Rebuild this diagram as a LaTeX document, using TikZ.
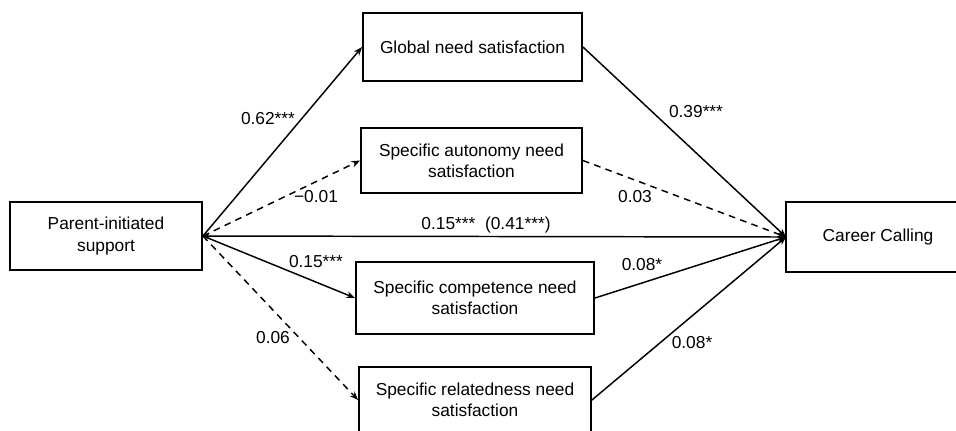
\documentclass[tikz,border=0pt]{standalone}
\usepackage{fontspec}
\setmainfont{Liberation Sans}
\usetikzlibrary{arrows.meta}

\tikzset{every picture/.style={line width=0.75pt}}
\tikzset{
  box/.style={draw, line width=1.4pt, align=center, inner sep=0pt,
    font=\fontsize{13}{15.8}\selectfont},
  lbl/.style={inner sep=0.75pt, font=\fontsize{13}{15.8}\selectfont},
  path/.style={line width=1.1pt, -{Stealth[length=6.5pt,width=5pt]}},
  dpath/.style={path, dash pattern=on 5pt off 4pt}
}

\begin{document}
\begin{tikzpicture}[x=0.75pt,y=0.75pt,yscale=-1,xscale=1]
\useasboundingbox (0,0) rectangle (956,430);

% Boxes
\node [box, minimum width=144pt, minimum height=51pt] (pis) at (106,236) {Parent-initiated\\support};
\node [box, minimum width=164.25pt, minimum height=51pt] (gns) at (472.5,47) {Global need satisfaction};
\node [box, minimum width=165.75pt, minimum height=48.75pt] (san) at (471.5,160.5) {Specific autonomy need\\satisfaction};
\node [box, minimum width=178.5pt, minimum height=54pt] (scn) at (475,298) {Specific competence need\\satisfaction};
\node [box, minimum width=174pt, minimum height=49.5pt] (srn) at (475,400) {Specific relatedness need\\satisfaction};
\node [box, draw=none, minimum width=136.5pt, minimum height=51pt] (cc) at (878,237) {Career Calling};
% box runs off the right edge
\draw [line width=1.4pt] ([xshift=40pt]cc.north east) -- (cc.north west) -- (cc.south west) -- ([xshift=40pt]cc.south east);

% Paths from parent support
\draw [path] (pis.east) -- (gns.west);
\draw [dpath] (pis.east) -- (san.west);
\draw [path] (pis.east) -- (scn.west);
\draw [dpath] (pis.east) -- (srn.west);
\draw [path, {Stealth[length=5pt,width=4pt]}-{Stealth[length=6.5pt,width=5pt]}] (pis.east) -- (cc.west);

% Paths to career calling
\draw [path] (gns.east) -- (cc.west);
\draw [dpath] (san.east) -- (cc.west);
\draw [path] (scn.east) -- (cc.west);
\draw [path] (srn.east) -- (cc.west);

% Coefficients
\node [lbl] (a1) at (268,119) {0.62***};
\node [lbl] (a2) at (316,197) {−0.01};
\node [lbl] (a3) at (316,262) {0.15***};
\node [lbl] (a4) at (273,338) {0.06};
\node [lbl] (c1) at (486,225) {0.15***\ \ (0.41***)};
\node [lbl] (b1) at (696,112) {0.39***};
\node [lbl] (b2) at (635,197) {0.03};
\node [lbl] (b3) at (642,265) {0.08*};
\node [lbl] (b4) at (692,343) {0.08*};

\end{tikzpicture}
\end{document}
